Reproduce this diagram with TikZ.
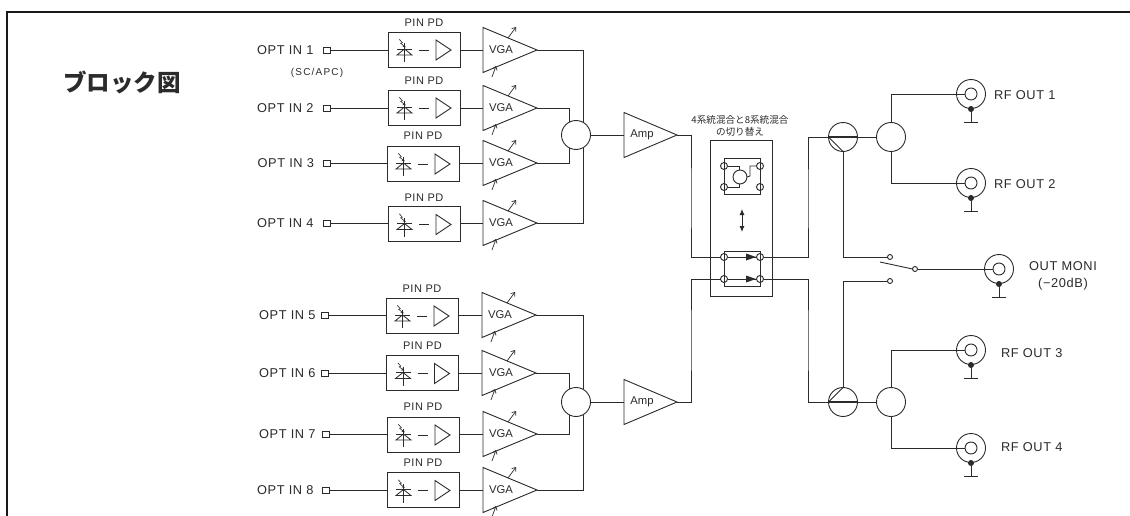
\documentclass[tikz,border=0pt]{standalone}
\usepackage{fontspec}
\setmainfont{Liberation Sans}
\newfontfamily\lsa[LetterSpace=5]{Liberation Sans}
\newfontfamily\lsb[LetterSpace=12]{Liberation Sans}
\newfontfamily\cjk{Noto Sans CJK JP}
\usetikzlibrary{shapes.geometric,arrows.meta}
\definecolor{ink}{HTML}{2b2b2b}
\newcommand{\fs}[1]{\fontsize{#1}{#1}\selectfont}
\tikzset{
  wire/.style={draw=ink,line width=0.9pt},
  box/.style={draw=ink,line width=0.9pt,rectangle,inner sep=0,outer sep=0},
  ring/.style={draw=ink,line width=0.9pt,circle,inner sep=0,outer sep=0,minimum size=#1},
  ampshape/.style={draw=ink,line width=0.9pt,shape=isosceles triangle,isosceles triangle stretches,
     minimum width=45,minimum height=54,inner sep=0,outer sep=0,anchor=apex},
  lab/.style={text=ink,inner sep=0,outer sep=0,font=\lsa\fs{12.8}},
  small/.style={text=ink,inner sep=0,outer sep=0,font=\lsa\fs{11}},
  trilab/.style={text=ink,inner sep=0,outer sep=0,font=\fs{11.3}},
  ctrl/.style={wire,line width=0.7pt,-{Straight Barb[length=3.2pt,width=5pt]}},
}
\begin{document}
\begin{tikzpicture}[x=1pt,y=-1pt]
\useasboundingbox (0,0) rectangle (1130,516);
\fill[white] (0,0) rectangle (1130,516);
% frame
\draw[black!90,line width=2pt] (7,516) -- (7,12) -- (1130,12);
\node[inner sep=0,anchor=west,text=ink,font=\cjk\bfseries\fs{23.5}] (title) at (63,82) {ブロック図};
\node[lab,inner sep=0,font=\lsb\fs{10}] (scapc) at (317,73) {(SC/APC)};
% input rows
\foreach \i/\t/\y/\lx/\px/\bx/\by/\ly/\tx/\tc in {
 1/OPT IN 1/50/257/323/424/49.5/23/537/501,
 2/OPT IN 2/108/257/323/424/107.5/81/537/501,
 3/OPT IN 3/163/257.5/323/423/163.5/136/537/501,
 4/OPT IN 4/223/257/323/424/224/198/537/501,
 5/OPT IN 5/315/259/321/422/315.5/289/536/500,
 6/OPT IN 6/373/259/321/422.5/373/346/536/501,
 7/OPT IN 7/434/259/322/423/434.5/407/537/501,
 8/OPT IN 8/490/257/322/423/490/463/537/501}{
  \node[lab,anchor=west] (t\i) at (\lx,\y) {\t};
  \node[box,minimum width=7,minimum height=6,anchor=west] (p\i) at (\px,\y) {};
  \node[box,minimum width=72,minimum height=35] (b\i) at (\bx,\by) {};
  \node[small] (l\i) at (\bx,\ly) {PIN PD};
  \node[ampshape] (v\i) at (\tx,\y) {};
  \node[trilab] (vt\i) at (\tc,\y) {VGA};
  \draw[wire] (p\i.east) -- (p\i.east -| b\i.west);
  \draw[wire] (b\i.east |- v\i.apex) -- (v\i.lower side);
  \draw[ctrl] (\tx-29,\y-12) -- (\tx-21,\y-23);
  \draw[ctrl] (\tx-45,\y+27) -- (\tx-41,\y+16);
  \begin{scope}[shift={(\bx,\by)}]
    \draw[wire,line width=0.8pt] (-27,-0.5) -- (-12,-0.5);
    \draw[wire,line width=0.8pt] (-19.5,-0.5) -- (-27,5.5) -- (-12,5.5) -- cycle;
    \draw[wire,line width=0.8pt] (-19.5,-6) -- (-19.5,12.5);
    \draw[wire,line width=0.6pt,-{Stealth[length=3pt,width=3pt]}] (-24.7,-10.2) -- (-21.7,-6.8) -- (-23.3,-6.2) -- (-18.3,-2.2);
    \draw[wire] (-5,0.5) -- (5,0.5);
    \draw[wire] (12,-9.5) -- (27,0.5) -- (12,10.5) -- cycle;
  \end{scope}
}
% mixers
\node[ring=29] (m1) at (576,135) {};
\node[ring=29] (m2) at (576,402) {};
\draw[wire] (v1.apex) -| (m1.61);
\draw[wire] (v2.apex) -| (m1.119);
\draw[wire] (v3.apex) -| (m1.-119);
\draw[wire] (v4.apex) -| (m1.-61);
\draw[wire] (v5.apex) -| (m2.61);
\draw[wire] (v6.apex) -| (m2.119);
\draw[wire] (v7.apex) -| (m2.-119);
\draw[wire] (v8.apex) -| (m2.-61);
% amps
\node[ampshape,minimum height=53] (a1) at (677,135) {};
\node[ampshape,minimum height=53] (a2) at (677,402) {};
\node[trilab] (at1) at (642,135) {Amp};
\node[trilab] (at2) at (642,402) {Amp};
\draw[wire] (m1.east) -- (a1.lower side);
\draw[wire] (m2.east) -- (a2.lower side);
% switch block
\node[text=ink,inner sep=0,align=center,font=\cjk\fs{9.6}] (cap) at (740,126) {4系統混合と8系統混合\\[2.5pt]の切り替え};
\node[box,minimum width=62,minimum height=156,anchor=north west] (sw) at (710,140) {};
% upper inset
\node[box,minimum width=36,minimum height=36,anchor=north west] (us) at (724,158) {};
\node[ring=7] (u1) at (724,166) {};
\node[ring=7] (u2) at (760,166) {};
\node[ring=7] (u3) at (724,187) {};
\node[ring=7] (u4) at (760,187) {};
\node[ring=14] (uc) at (740,177) {};
\draw[wire] (u1.east) -| (uc.97);
\draw[wire] (u3.east) -| (uc.-97);
\draw[wire] (u2.west) -| (750,176) -- (uc.east);
\coordinate (da) at (742,209);
\coordinate (db) at (742,232);
\draw[wire,{Latex[length=6pt,width=5pt]}-{Latex[length=6pt,width=5pt]}] (da) -- (db);
% lower inset
\node[box,minimum width=36,minimum height=35,anchor=north west] (ls) at (724,251) {};
\node[ring=7] (pl1) at (724,257) {};
\node[ring=7] (pr1) at (760,257) {};
\node[ring=7] (pl2) at (724,279) {};
\node[ring=7] (pr2) at (760,279) {};
\draw[wire] (pl1.east) -- (pr1.west);
\draw[wire] (pl2.east) -- (pr2.west);
\fill[ink] (746,253.5) -- (756,257) -- (746,260.5) -- cycle;
\fill[ink] (746,275.5) -- (756,279) -- (746,282.5) -- cycle;
\coordinate (j1) at (691,200);
\coordinate (j2) at (691,340);
\coordinate (j3) at (808,200);
\coordinate (j4) at (808,340);
\draw[wire] (a1.apex) -| (j1) |- (pl1.west);
\draw[wire] (a2.apex) -| (j2) |- (pl2.west);
% couplers and splitters
\node[ring=29] (c1) at (843,137) {};
\node[ring=29] (c2) at (843,402) {};
\node[ring=29] (s1) at (891,137) {};
\node[ring=29] (s2) at (891,402) {};
\draw[wire] (pr1.east) -| (j3) |- (c1.west);
\draw[wire] (pr2.east) -| (j4) |- (c2.west);
\draw[wire,line width=1.2pt] (c1.west) -- (c1.east);
\draw[wire,line width=1.2pt] (c2.west) -- (c2.east);
\draw[wire] (c1.east) -- (s1.west);
\draw[wire] (c2.east) -- (s2.west);
\draw[wire] (c1.west) -- (c1.south);
\draw[wire] (c2.west) -- (c2.north);
% monitor switch
\node[ring=5] (k1) at (890,257) {};
\node[ring=5] (k2) at (890,281) {};
\node[ring=5] (k3) at (915,269) {};
\coordinate (blade) at (880,262);
\draw[wire] (blade) -- (k3.west);
\draw[wire] (c1.south) |- (k1.west);
\draw[wire] (c2.north) |- (k2.west);
% output connectors
\foreach \n/\x/\y in {o1/971/94,o2/971/183,o3/971/350,o4/971/448,o5/999/269}{
  \node[ring=29] (\n) at (\x,\y) {};
  \node[ring=12] (\n i) at (\x,\y) {};
  \node[ring=5,fill=ink] (\n d) at (\x,\y+15) {};
  \coordinate (\n g) at (\x,\y+28.5);
  \draw[wire] (\n d.south) -- (\n g);
  \draw[wire] ([xshift=-7pt]\n g) -- ([xshift=7pt]\n g);
}
\draw[wire] (s1.north) |- (o1i.west);
\draw[wire] (s1.south) |- (o2i.west);
\draw[wire] (s2.north) |- (o3i.west);
\draw[wire] (s2.south) |- (o4i.west);
\draw[wire] (k3.east) -- (o5i.west);
% output labels
\node[lab,anchor=west] (r1) at (994,95) {RF OUT 1};
\node[lab,anchor=west] (r2) at (994,184) {RF OUT 2};
\node[lab,anchor=west] (r3) at (1001,353) {RF OUT 3};
\node[lab,anchor=west] (r4) at (1001,447) {RF OUT 4};
\node[lab] (r5) at (1063,266) {OUT MONI};
\node[lab] (r6) at (1063,284) {(−20dB)};
\end{tikzpicture}
\end{document}
